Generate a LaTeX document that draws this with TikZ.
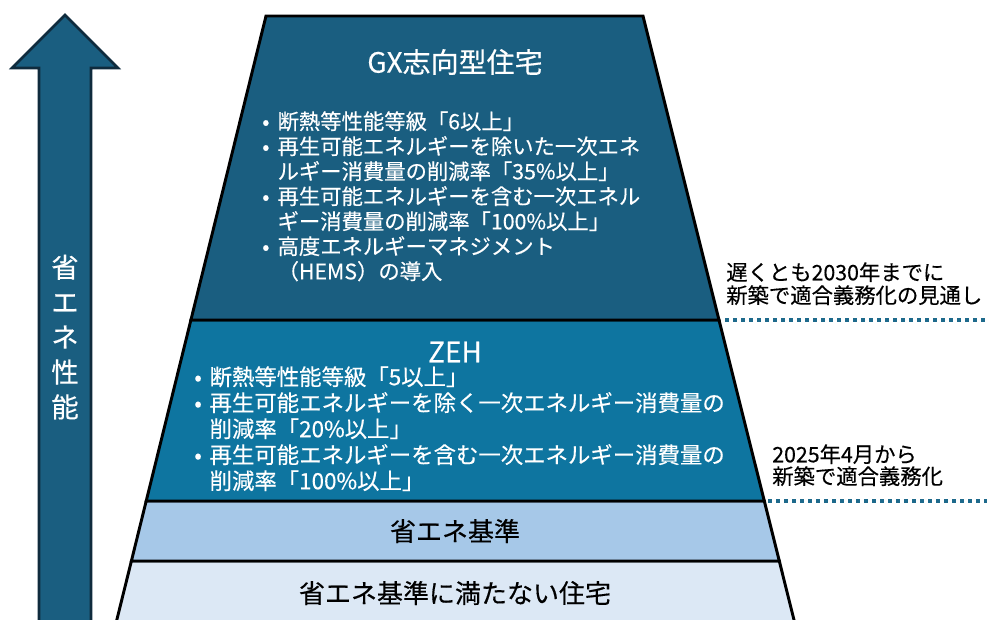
\documentclass[tikz,border=0pt]{standalone}
\usepackage{fontspec}
\setmainfont{Noto Sans CJK JP}[FakeBold=0.35]
\definecolor{gxblue}{HTML}{1A5E80}
\definecolor{zehblue}{HTML}{0E75A0}
\definecolor{baseblue}{HTML}{A6C8E8}
\definecolor{lowblue}{HTML}{DCE8F5}
\definecolor{arrowline}{HTML}{0F2B3D}
\definecolor{dotblue}{HTML}{1E6A8C}
\newcommand{\bul}{\makebox[11.5pt][l]{•}}
\newcommand{\ind}{\hspace*{11.5pt}}

\begin{document}
\begin{tikzpicture}[x=0.75pt,y=-0.75pt,
                band/.style={draw=black,line width=2.2pt,line join=miter},
                bigtext/.style={font=\fontsize{21}{25}\selectfont},
                midtext/.style={font=\fontsize{19.5}{23}\selectfont},
                listtext/.style={text=white,align=left,anchor=north west,inner sep=0pt},
                dotline/.style={draw=dotblue,line width=3pt,dash pattern=on 3.3pt off 2.7pt}]
                \useasboundingbox (0,0) rectangle (987,619);
                \clip (0,0) rectangle (987,619);
                % bands of the pyramid
                \draw[band,fill=lowblue] (131.4,561) -- (779.3,561) -- (796.5,630) -- (114.3,630) -- cycle;
                \draw[band,fill=baseblue] (146.2,501) -- (764.3,501) -- (779.3,561) -- (131.4,561) -- cycle;
                \draw[band,fill=zehblue] (190.9,320) -- (719,320) -- (764.3,501) -- (146.2,501) -- cycle;
                \draw[band,fill=gxblue] (266,16) -- (643,16) -- (719,320) -- (190.9,320) -- cycle;
                % arrow
                \draw[draw=arrowline,line width=2pt,fill=gxblue,line join=miter]
                    (39,630) -- (39,68) -- (12,68) -- (65,15) -- (118,68) -- (91,68) -- (91,630) -- cycle;
                \node[text=white,align=center,font=\fontsize{20.5}{26.2}\selectfont] (arrowtext) at (65,337)
                    {省\\エ\\ネ\\性\\能};
                % texts
                \node[bigtext,text=white] (gxtitle) at (455,62) {GX志向型住宅};
                \node[listtext,font=\fontsize{16}{18.75}\selectfont] (gxlist) at (262,111) {%
                    \bul 断熱等性能等級「6以上」\\
                    \bul 再生可能エネルギーを除いた一次エネ\\
                    \ind ルギー消費量の削減率「35\%以上」\\
                    \bul 再生可能エネルギーを含む一次エネル\\
                    \ind ギー消費量の削減率「100\%以上」\\
                    \bul 高度エネルギーマネジメント\\
                    \ind （HEMS）の導入};
                \node[bigtext,text=white] (zehtitle) at (455,352) {ZEH};
                \node[listtext,font=\fontsize{16.8}{19.5}\selectfont] (zehlist) at (194,366) {%
                    \bul 断熱等性能等級「5以上」\\
                    \bul 再生可能エネルギーを除く一次エネルギー消費量の\\
                    \ind 削減率「20\%以上」\\
                    \bul 再生可能エネルギーを含む一次エネルギー消費量の\\
                    \ind 削減率「100\%以上」};
                \node[midtext] (basetitle) at (455,531) {省エネ基準};
                \node[midtext] (lowtitle) at (455,593) {省エネ基準に満たない住宅};
                % notes on the right
                \node[align=left,anchor=north west,inner sep=0pt,font=\fontsize{16}{17.25}\selectfont] (note2030) at (726,262)
                    {遅くとも2030年までに\\新築で適合義務化の見通し};
                \node[align=left,anchor=north west,inner sep=0pt,font=\fontsize{16}{16.5}\selectfont] (note2025) at (772,444)
                    {2025年4月から\\新築で適合義務化};
                \coordinate (gxedge) at (725,320);
                \coordinate (gxend) at (990,320);
                \coordinate (zehedge) at (768,501);
                \coordinate (zehend) at (990,501);
                \draw[dotline] (gxedge) -- (gxend);
                \draw[dotline] (zehedge) -- (zehend);
\end{tikzpicture}
\end{document}
